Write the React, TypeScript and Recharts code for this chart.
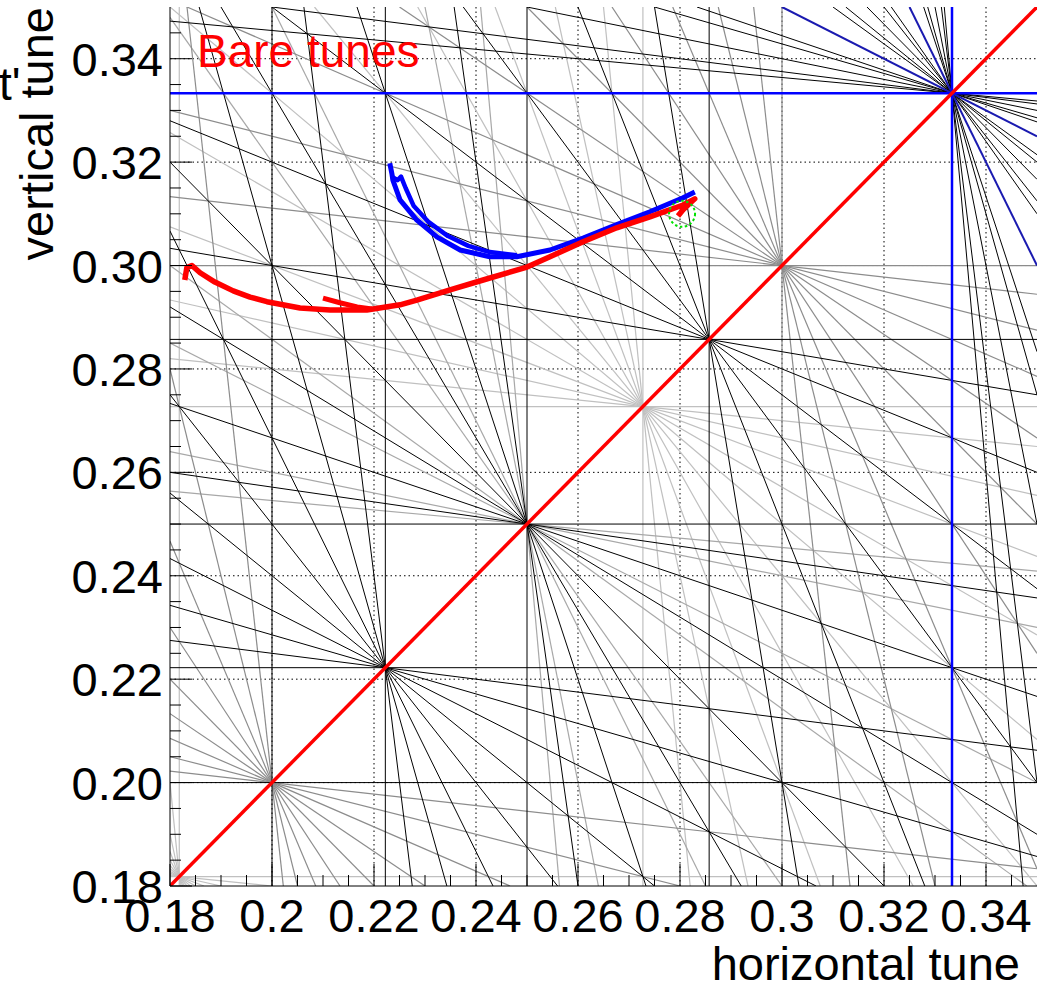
import React from 'react';
import { ComposedChart, XAxis, YAxis, ReferenceLine, ReferenceDot, Line } from 'recharts';

const W = 1040;
const H = 989;
const X0 = 0.18;
const X1 = 0.35;
const Y0 = 0.18;
const Y1 = 0.35;
const FONT = '"Liberation Sans", Arial, Helvetica, sans-serif';

// ticks (minor every 0.005)
const minorTicks = [
  0.18, 0.185, 0.19, 0.195, 0.2, 0.205, 0.21, 0.215, 0.22, 0.225, 0.23, 0.235, 0.24, 0.245,
  0.25, 0.255, 0.26, 0.265, 0.27, 0.275, 0.28, 0.285, 0.29, 0.295, 0.3, 0.305, 0.31, 0.315,
  0.32, 0.325, 0.33, 0.335, 0.34, 0.345,
];
const majorTicks = [0.18, 0.2, 0.22, 0.24, 0.26, 0.28, 0.3, 0.32, 0.34];
const xTickLabels = ['0.18', '0.2', '0.22', '0.24', '0.26', '0.28', '0.3', '0.32', '0.34'];
const yTickLabels = ['0.18', '0.20', '0.22', '0.24', '0.26', '0.28', '0.30', '0.32', '0.34'];

// resonance lines m*Qx + n*Qy = p
const res3Axis = [[3, 0, 1], [0, 3, 1]];
const res3Diag = [[1, 2, 1], [2, 1, 1]];
const res4 = [[4, 0, 1], [0, 4, 1], [1, 3, 1], [2, 2, 1], [3, 1, 1]];
const res5Axis = [[5, 0, 1], [0, 5, 1]];
const res5Diag = [[1, 4, 1], [2, 3, 1], [3, 2, 1], [4, 1, 1]];
const res6 = [[1, 5, 2], [3, 3, 2], [5, 1, 2]];
const res7 = [[0, 7, 2], [1, 6, 2], [2, 5, 2], [3, 4, 2], [4, 3, 2], [5, 2, 2], [6, 1, 2], [7, 0, 2]];
const res8 = [[1, 7, 2], [3, 5, 2], [5, 3, 2], [7, 1, 2]];
const res9 = [
  [0, 9, 2], [1, 8, 2], [2, 7, 2], [3, 6, 2], [4, 5, 2], [5, 4, 2], [6, 3, 2], [7, 2, 2], [8, 1, 2], [9, 0, 2],
  [1, 8, 3], [2, 7, 3], [4, 5, 3], [5, 4, 3], [7, 2, 3], [8, 1, 3],
];
const res10 = [
  [1, 9, 2], [3, 7, 2], [5, 5, 2], [7, 3, 2], [9, 1, 2],
  [0, 10, 3], [1, 9, 3], [2, 8, 3], [3, 7, 3], [4, 6, 3], [5, 5, 3], [6, 4, 3], [7, 3, 3], [8, 2, 3], [9, 1, 3], [10, 0, 3],
];
const res11 = [
  [0, 11, 2], [1, 10, 2], [2, 9, 2], [3, 8, 2], [4, 7, 2], [5, 6, 2], [6, 5, 2], [7, 4, 2], [8, 3, 2], [9, 2, 2], [10, 1, 2], [11, 0, 2],
  [0, 11, 3], [1, 10, 3], [2, 9, 3], [3, 8, 3], [4, 7, 3], [5, 6, 3], [6, 5, 3], [7, 4, 3], [8, 3, 3], [9, 2, 3], [10, 1, 3], [11, 0, 3],
];
const res12Quarter = [[1, 11, 3], [2, 10, 3], [4, 8, 3], [5, 7, 3], [7, 5, 3], [8, 4, 3], [10, 2, 3], [11, 1, 3]];
const res12Third = [[1, 11, 4], [3, 9, 4], [5, 7, 4], [7, 5, 4], [9, 3, 4], [11, 1, 4]];
const coupling = [[1, -1, 0]];

// measured tune footprints
const redMain = [
  { x: 0.1829, y: 0.2972 }, { x: 0.1833, y: 0.2996 }, { x: 0.1843, y: 0.3 }, { x: 0.1859, y: 0.2986 },
  { x: 0.1888, y: 0.2968 }, { x: 0.1924, y: 0.2951 }, { x: 0.1957, y: 0.2939 }, { x: 0.199, y: 0.293 },
  { x: 0.2055, y: 0.2918 }, { x: 0.2114, y: 0.2914 }, { x: 0.2186, y: 0.2914 }, { x: 0.2251, y: 0.2924 },
  { x: 0.2284, y: 0.2933 }, { x: 0.2349, y: 0.2953 }, { x: 0.2414, y: 0.2972 }, { x: 0.25, y: 0.2997 },
  { x: 0.2545, y: 0.3017 }, { x: 0.261, y: 0.3046 }, { x: 0.2676, y: 0.3073 }, { x: 0.2741, y: 0.3094 },
  { x: 0.2806, y: 0.3117 }, { x: 0.2829, y: 0.3129 }, { x: 0.282, y: 0.3121 }, { x: 0.2806, y: 0.3108 },
  { x: 0.2796, y: 0.3096 },
];
const redBranch = [
  { x: 0.21, y: 0.2937 }, { x: 0.2133, y: 0.2928 }, { x: 0.2167, y: 0.292 }, { x: 0.2196, y: 0.2916 },
];
const blueOuter = [
  { x: 0.2231, y: 0.3198 }, { x: 0.2235, y: 0.3178 }, { x: 0.2237, y: 0.3165 }, { x: 0.2251, y: 0.3127 },
  { x: 0.2284, y: 0.3088 }, { x: 0.2324, y: 0.3055 }, { x: 0.2369, y: 0.303 }, { x: 0.2427, y: 0.3017 },
  { x: 0.248, y: 0.3017 }, { x: 0.2545, y: 0.303 }, { x: 0.261, y: 0.3053 }, { x: 0.2676, y: 0.3079 },
  { x: 0.2741, y: 0.3104 }, { x: 0.2806, y: 0.3131 }, { x: 0.2829, y: 0.3142 },
];
const blueInner = [
  { x: 0.2235, y: 0.3172 }, { x: 0.2246, y: 0.3165 }, { x: 0.2253, y: 0.3172 }, { x: 0.2262, y: 0.315 },
  { x: 0.2278, y: 0.3115 }, { x: 0.2306, y: 0.3085 }, { x: 0.2345, y: 0.3057 }, { x: 0.2385, y: 0.3038 },
  { x: 0.2427, y: 0.3026 }, { x: 0.248, y: 0.302 },
];
const workingPoint = { x: 0.2804, y: 0.31, r: 13 };

type Seg = [{ x: number; y: number }, { x: number; y: number }];

function clipLine(m: number, n: number, p: number): Seg | null {
  const eps = 1e-9;
  const pts: { x: number; y: number }[] = [];
  const inX = (v: number) => v >= X0 - eps && v <= X1 + eps;
  const inY = (v: number) => v >= Y0 - eps && v <= Y1 + eps;
  if (n !== 0) {
    for (const x of [X0, X1]) {
      const y = (p - m * x) / n;
      if (inY(y)) pts.push({ x, y });
    }
  }
  if (m !== 0) {
    for (const y of [Y0, Y1]) {
      const x = (p - n * y) / m;
      if (inX(x)) pts.push({ x, y });
    }
  }
  if (pts.length < 2) return null;
  let best: Seg | null = null;
  let bd = -1;
  for (let i = 0; i < pts.length; i++) {
    for (let j = i + 1; j < pts.length; j++) {
      const d = (pts[i].x - pts[j].x) ** 2 + (pts[i].y - pts[j].y) ** 2;
      if (d > bd) {
        bd = d;
        best = [pts[i], pts[j]];
      }
    }
  }
  return best;
}

function family(list: number[][], color: string, width: number, keyp: string) {
  return list.map((r, i) => {
    const seg = clipLine(r[0], r[1], r[2]);
    if (!seg) return null;
    return (
      <ReferenceLine
        key={keyp + i}
        xAxisId="b"
        yAxisId="l"
        segment={seg}
        stroke={color}
        strokeWidth={width}
        ifOverflow="hidden"
      />
    );
  });
}

const isMajor = (v: number) => majorTicks.findIndex((t) => Math.abs(t - v) < 1e-6);

const BottomTick = (props: any) => {
  const { x, y, payload } = props;
  const idx = isMajor(payload.value);
  const len = idx >= 0 ? 22 : 11;
  return (
    <g>
      <line x1={x} y1={y} x2={x} y2={y - len} stroke="#000" strokeWidth={1} />
      {idx >= 0 && (
        <text x={x} y={y + 46} textAnchor="middle" fontSize={47} fontFamily={FONT} fill="#000">
          {xTickLabels[idx]}
        </text>
      )}
    </g>
  );
};
const TopTick = (props: any) => {
  const { x, y, payload } = props;
  const idx = isMajor(payload.value);
  const len = idx >= 0 ? 22 : 11;
  return <line x1={x} y1={y} x2={x} y2={y + len} stroke="#000" strokeWidth={1} />;
};
const LeftTick = (props: any) => {
  const { x, y, payload } = props;
  const idx = isMajor(payload.value);
  const len = idx >= 0 ? 22 : 11;
  return (
    <g>
      <line x1={x} y1={y} x2={x + len} y2={y} stroke="#000" strokeWidth={1} />
      {idx >= 0 && (
        <text x={x - 7} y={y + 17} textAnchor="end" fontSize={47} fontFamily={FONT} fill="#000">
          {yTickLabels[idx]}
        </text>
      )}
    </g>
  );
};
const RightTick = (props: any) => {
  const { x, y, payload } = props;
  const idx = isMajor(payload.value);
  const len = idx >= 0 ? 22 : 11;
  return <line x1={x} y1={y} x2={x - len} y2={y} stroke="#000" strokeWidth={1} />;
};

export default function App() {
  const axisLine = { stroke: '#000', strokeWidth: 1 };
  return (
    <div style={{ position: 'absolute', left: 0, top: 0, width: W, height: H, background: '#fff' }}>
      <ComposedChart width={W} height={H} margin={{ top: 7, right: 3, bottom: 0, left: 0 }}>
        <XAxis
          xAxisId="b"
          type="number"
          dataKey="x"
          domain={[X0, X1]}
          allowDataOverflow
          ticks={minorTicks}
          interval={0}
          height={103}
          tickSize={0}
          tickMargin={0}
          tickLine={false}
          axisLine={axisLine}
          tick={<BottomTick />}
        />
        <XAxis
          xAxisId="t"
          orientation="top"
          type="number"
          dataKey="x"
          domain={[X0, X1]}
          allowDataOverflow
          ticks={minorTicks}
          interval={0}
          height={0}
          tickSize={0}
          tickMargin={0}
          tickLine={false}
          axisLine={axisLine}
          tick={<TopTick />}
        />
        <YAxis
          yAxisId="l"
          type="number"
          dataKey="y"
          domain={[Y0, Y1]}
          allowDataOverflow
          ticks={minorTicks}
          interval={0}
          width={170}
          tickSize={0}
          tickMargin={0}
          tickLine={false}
          axisLine={axisLine}
          tick={<LeftTick />}
        />
        <YAxis
          yAxisId="r"
          orientation="right"
          type="number"
          dataKey="y"
          domain={[Y0, Y1]}
          allowDataOverflow
          ticks={minorTicks}
          interval={0}
          width={0}
          tickSize={0}
          tickMargin={0}
          tickLine={false}
          axisLine={axisLine}
          tick={<RightTick />}
        />

        {/* grid */}
        {majorTicks.slice(1).map((v) => (
          <ReferenceLine key={'gx' + v} xAxisId="b" yAxisId="l" x={v} stroke="#000" strokeWidth={1} strokeDasharray="1.5 3" />
        ))}
        {majorTicks.slice(1).map((v) => (
          <ReferenceLine key={'gy' + v} xAxisId="b" yAxisId="l" y={v} stroke="#000" strokeWidth={1} strokeDasharray="1.5 3" />
        ))}

        {family(res11, '#c0c0c0', 1.2, 'r11-')}
        {family(res12Quarter, '#a8a8a8', 1.2, 'r12q-')}
        {family(res10, '#8c8c8c', 1.2, 'r10-')}
        {family(res5Diag, '#8c8c8c', 1.2, 'r5d-')}
        {family(res12Third, '#000', 1, 'r12t-')}
        {family(res9, '#000', 1, 'r9-')}
        {family(res8, '#000', 1, 'r8-')}
        {family(res7, '#000', 1, 'r7-')}
        {family(res6, '#000', 1, 'r6-')}
        {family(res5Axis, '#000', 1, 'r5a-')}
        {family(res4, '#000', 1, 'r4-')}
        {family(res3Diag, '#1a1ab0', 2, 'r3d-')}
        {family(res3Axis, '#0000ff', 2.5, 'r3a-')}
        {coupling.map((c, i) => (
          <ReferenceLine
            key={'c' + i}
            xAxisId="b"
            yAxisId="l"
            segment={[{ x: X0, y: (c[2] - c[0] * X0) / c[1] }, { x: X1, y: (c[2] - c[0] * X1) / c[1] }]}
            stroke="#ff0000"
            strokeWidth={3.5}
            ifOverflow="hidden"
          />
        ))}

        <Line xAxisId="b" yAxisId="l" data={blueOuter} dataKey="y" type="linear" stroke="#0000ff" strokeWidth={5} dot={false} isAnimationActive={false} strokeLinejoin="round" />
        <Line xAxisId="b" yAxisId="l" data={blueInner} dataKey="y" type="linear" stroke="#0000ff" strokeWidth={4.5} dot={false} isAnimationActive={false} strokeLinejoin="round" />
        <Line xAxisId="b" yAxisId="l" data={redBranch} dataKey="y" type="linear" stroke="#ff0000" strokeWidth={5} dot={false} isAnimationActive={false} strokeLinejoin="round" />
        <Line xAxisId="b" yAxisId="l" data={redMain} dataKey="y" type="linear" stroke="#ff0000" strokeWidth={5.5} dot={false} isAnimationActive={false} strokeLinejoin="round" />
        <ReferenceDot
          xAxisId="b"
          yAxisId="l"
          x={workingPoint.x}
          y={workingPoint.y}
          r={workingPoint.r}
          fill="none"
          stroke="#00e000"
          strokeWidth={2}
          strokeDasharray="2.5 2.5"
        />
      </ComposedChart>
      <svg
        width={W}
        height={H}
        style={{ position: 'absolute', left: 0, top: 0, pointerEvents: 'none' }}
      >
        <text x={197} y={67} fontSize={46} fontFamily={FONT} fill="#ff0000">
          Bare tunes
        </text>
        <text x={1020} y={980} fontSize={47} fontFamily={FONT} fill="#000" textAnchor="end">
          horizontal tune
        </text>
        <text
          transform="translate(53,7) rotate(-90)"
          fontSize={47}
          fontFamily={FONT}
          fill="#000"
          textAnchor="end"
        >
          vertical tune
        </text>
        <text x={-1} y={100} fontSize={46} fontFamily={FONT} fill="#000">
          t'
        </text>
      </svg>
    </div>
  );
}
